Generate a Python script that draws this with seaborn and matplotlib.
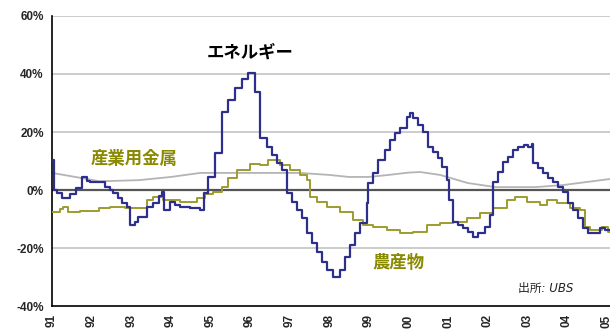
import numpy as np
import pandas as pd
import matplotlib
matplotlib.use('Agg')
import matplotlib.pyplot as plt
import seaborn as sns

# エネルギー (step changes: 年, %)
energy_t = [1991.0, 1991.04, 1991.13, 1991.25, 1991.45, 1991.61, 1991.76, 1991.88, 1991.97,
            1992.34, 1992.46, 1992.54, 1992.67, 1992.77, 1992.89, 1992.97, 1993.1, 1993.17,
            1993.4, 1993.55, 1993.7, 1993.78, 1993.83, 1993.98, 1994.1, 1994.23, 1994.48,
            1994.74, 1994.84, 1994.94, 1995.12, 1995.29, 1995.44, 1995.62, 1995.8, 1995.95,
            1996.13, 1996.25, 1996.43, 1996.56, 1996.68, 1996.81, 1996.93, 1997.06, 1997.19,
            1997.31, 1997.44, 1997.57, 1997.69, 1997.82, 1997.94, 1998.1, 1998.27, 1998.4,
            1998.53, 1998.65, 1998.78, 1998.95, 1998.98, 1999.11, 1999.23, 1999.41, 1999.54,
            1999.66, 1999.79, 1999.96, 2000.04, 2000.12, 2000.24, 2000.37, 2000.49, 2000.62,
            2000.75, 2000.85, 2000.97, 2001.03, 2001.13, 2001.25, 2001.38, 2001.5, 2001.63,
            2001.76, 2001.93, 2002.06, 2002.14, 2002.26, 2002.39, 2002.52, 2002.64, 2002.77,
            2002.92, 2003.02, 2003.12, 2003.15, 2003.27, 2003.4, 2003.53, 2003.65, 2003.78,
            2003.9, 2004.03, 2004.16, 2004.28, 2004.41, 2004.54, 2004.84, 2004.96, 2005.09]
energy_v = [10.3, 0.0, -1.0, -2.8, -1.4, 0.7, 4.5, 3.1, 2.6,
            1.0, 0.0, -1.0, -2.8, -4.5, -5.9, -12.0, -11.0, -9.3,
            -5.9, -4.5, -2.0, -0.7, -6.9, -4.1, -5.2, -5.9, -6.2,
            -6.9, -1.0, 4.5, 12.8, 26.9, 31.0, 35.2, 38.3, 40.3,
            33.8, 17.9, 14.8, 12.1, 9.3, 6.9, -1.0, -4.1, -6.9,
            -9.7, -14.8, -18.3, -21.4, -24.8, -27.6, -30.0, -27.6, -23.1,
            -19.0, -14.8, -11.4, -4.5, 2.4, 5.9, 10.3, 13.8, 17.2,
            19.7, 21.4, 25.2, 26.5, 24.8, 22.4, 20.0, 14.8, 13.1,
            11.0, 7.9, 3.4, -3.4, -11.0, -12.1, -13.1, -14.5, -16.2,
            -14.8, -12.8, -8.6, 2.8, 6.2, 9.7, 11.4, 13.8, 14.8,
            15.5, 14.8, 15.9, 9.3, 7.6, 5.9, 4.1, 2.8, 1.0,
            -0.7, -4.5, -6.9, -9.7, -13.1, -14.8, -13.1, -13.8, -13.8]

# 農産物
agri_t = [1991.0, 1991.2, 1991.28, 1991.4, 1991.7, 1992.2, 1992.46, 1992.84, 1993.22,
          1993.4, 1993.55, 1993.8, 1994.23, 1994.66, 1994.86, 1995.07, 1995.29, 1995.44,
          1995.67, 1996.0, 1996.25, 1996.45, 1996.76, 1997.01, 1997.26, 1997.44, 1997.52,
          1997.69, 1997.94, 1998.27, 1998.6, 1998.85, 1999.11, 1999.46, 1999.79, 2000.12,
          2000.47, 2000.8, 2001.13, 2001.48, 2001.81, 2002.14, 2002.49, 2002.69, 2003.0,
          2003.32, 2003.5, 2003.75, 2004.08, 2004.33, 2004.46, 2004.59, 2004.89, 2005.04, 2005.09]
agri_v = [-7.6, -6.5, -5.9, -7.6, -7.2, -6.2, -5.9, -6.2, -6.2,
          -3.4, -2.4, -3.4, -4.1, -2.8, -1.4, -0.7, 1.0, 4.1,
          6.9, 9.0, 8.6, 10.3, 8.6, 6.9, 5.2, 3.4, -2.4,
          -4.1, -5.9, -7.6, -10.3, -12.1, -12.8, -13.8, -14.8, -14.5,
          -12.1, -11.4, -11.0, -9.7, -7.9, -6.2, -3.4, -2.4, -4.1,
          -5.2, -3.4, -4.5, -6.2, -6.9, -12.8, -13.8, -12.8, -14.5, -14.5]

# 産業用金属 (なめらかな線)
metal_t = [1991.0, 1991.8, 1992.2, 1993.2, 1994.0, 1994.75, 1995.5, 1996.5, 1997.25,
           1998.0, 1998.5, 1999.0, 1999.5, 2000.0, 2000.3, 2000.8, 2001.5, 2002.2,
           2003.2, 2003.9, 2005.09]
metal_v = [5.9, 4.0, 3.0, 3.4, 4.5, 5.9, 5.9, 5.9, 5.9,
           5.2, 4.5, 4.5, 5.2, 6.0, 6.2, 5.2, 2.4, 1.0,
           1.0, 1.7, 3.8]

year_ticks = list(range(1991, 2006))
year_labels = ['91', '92', '93', '94', '95', '96', '97', '98', '99',
               '00', '01', '02', '03', '04', '05']
y_ticks = [-40, -20, 0, 20, 40, 60]

energy = pd.DataFrame({'t': energy_t, 'v': energy_v})
agri = pd.DataFrame({'t': agri_t, 'v': agri_v})
metal = pd.DataFrame({'t': metal_t, 'v': metal_v})

sns.set_style('white')
plt.rcParams['font.family'] = ['Liberation Sans', 'Noto Sans CJK JP', 'DejaVu Sans']

fig = plt.figure(figsize=(6.1, 3.33), dpi=100)
ax = fig.add_axes([0.0852, 0.081, 0.9148, 0.871])

# グリッド線と0%線
for yv in [-20, 20, 40, 60]:
    ax.axhline(yv, color='#c8c8c8', lw=1.3, zorder=0)
ax.axhline(0, color='#555555', lw=1.6, zorder=1)

sns.lineplot(data=metal, x='t', y='v', ax=ax, color='#b4b4b4', lw=1.3, zorder=2)
sns.lineplot(data=agri, x='t', y='v', ax=ax, color='#9c9c30', lw=1.4,
             drawstyle='steps-post', zorder=3)
sns.lineplot(data=energy, x='t', y='v', ax=ax, color='#2e2e8c', lw=1.6,
             drawstyle='steps-post', zorder=4)

ax.set_xlim(1991.0, 2005.09)
ax.set_ylim(-40, 60)
ax.set_xticks(year_ticks)
ax.set_xticklabels(year_labels, rotation=90, fontsize=8.5, fontweight='bold')
ax.set_yticks(y_ticks)
ax.set_yticklabels([f'{v}%' for v in y_ticks], fontsize=8.5, fontweight='bold')
ax.set_xlabel('')
ax.set_ylabel('')

for s in ['top', 'right']:
    ax.spines[s].set_visible(False)
for s in ['left', 'bottom']:
    ax.spines[s].set_color('black')
    ax.spines[s].set_linewidth(1.2)
ax.tick_params(axis='both', direction='out', length=4, width=1.2, color='black', pad=2)

jp = ['Noto Sans CJK JP', 'DejaVu Sans']
ax.text(1994.91, 47.5, 'エネルギー', family=jp, fontsize=12.5, fontweight='bold',
        color='black', ha='left', va='center')
ax.text(1991.97, 10.7, '産業用金属', family=jp, fontsize=12.5, fontweight='bold',
        color='#8a8a00', ha='left', va='center')
ax.text(1999.1, -25, '農産物', family=jp, fontsize=12.5, fontweight='bold',
        color='#8a8a00', ha='left', va='center')
ax.text(2002.77, -33.8, '出所: UBS', family=['DejaVu Sans', 'Noto Sans CJK JP'],
        fontsize=8.5, style='italic', color='#222222', ha='left', va='center')

fig.savefig('out.png', dpi=100)
